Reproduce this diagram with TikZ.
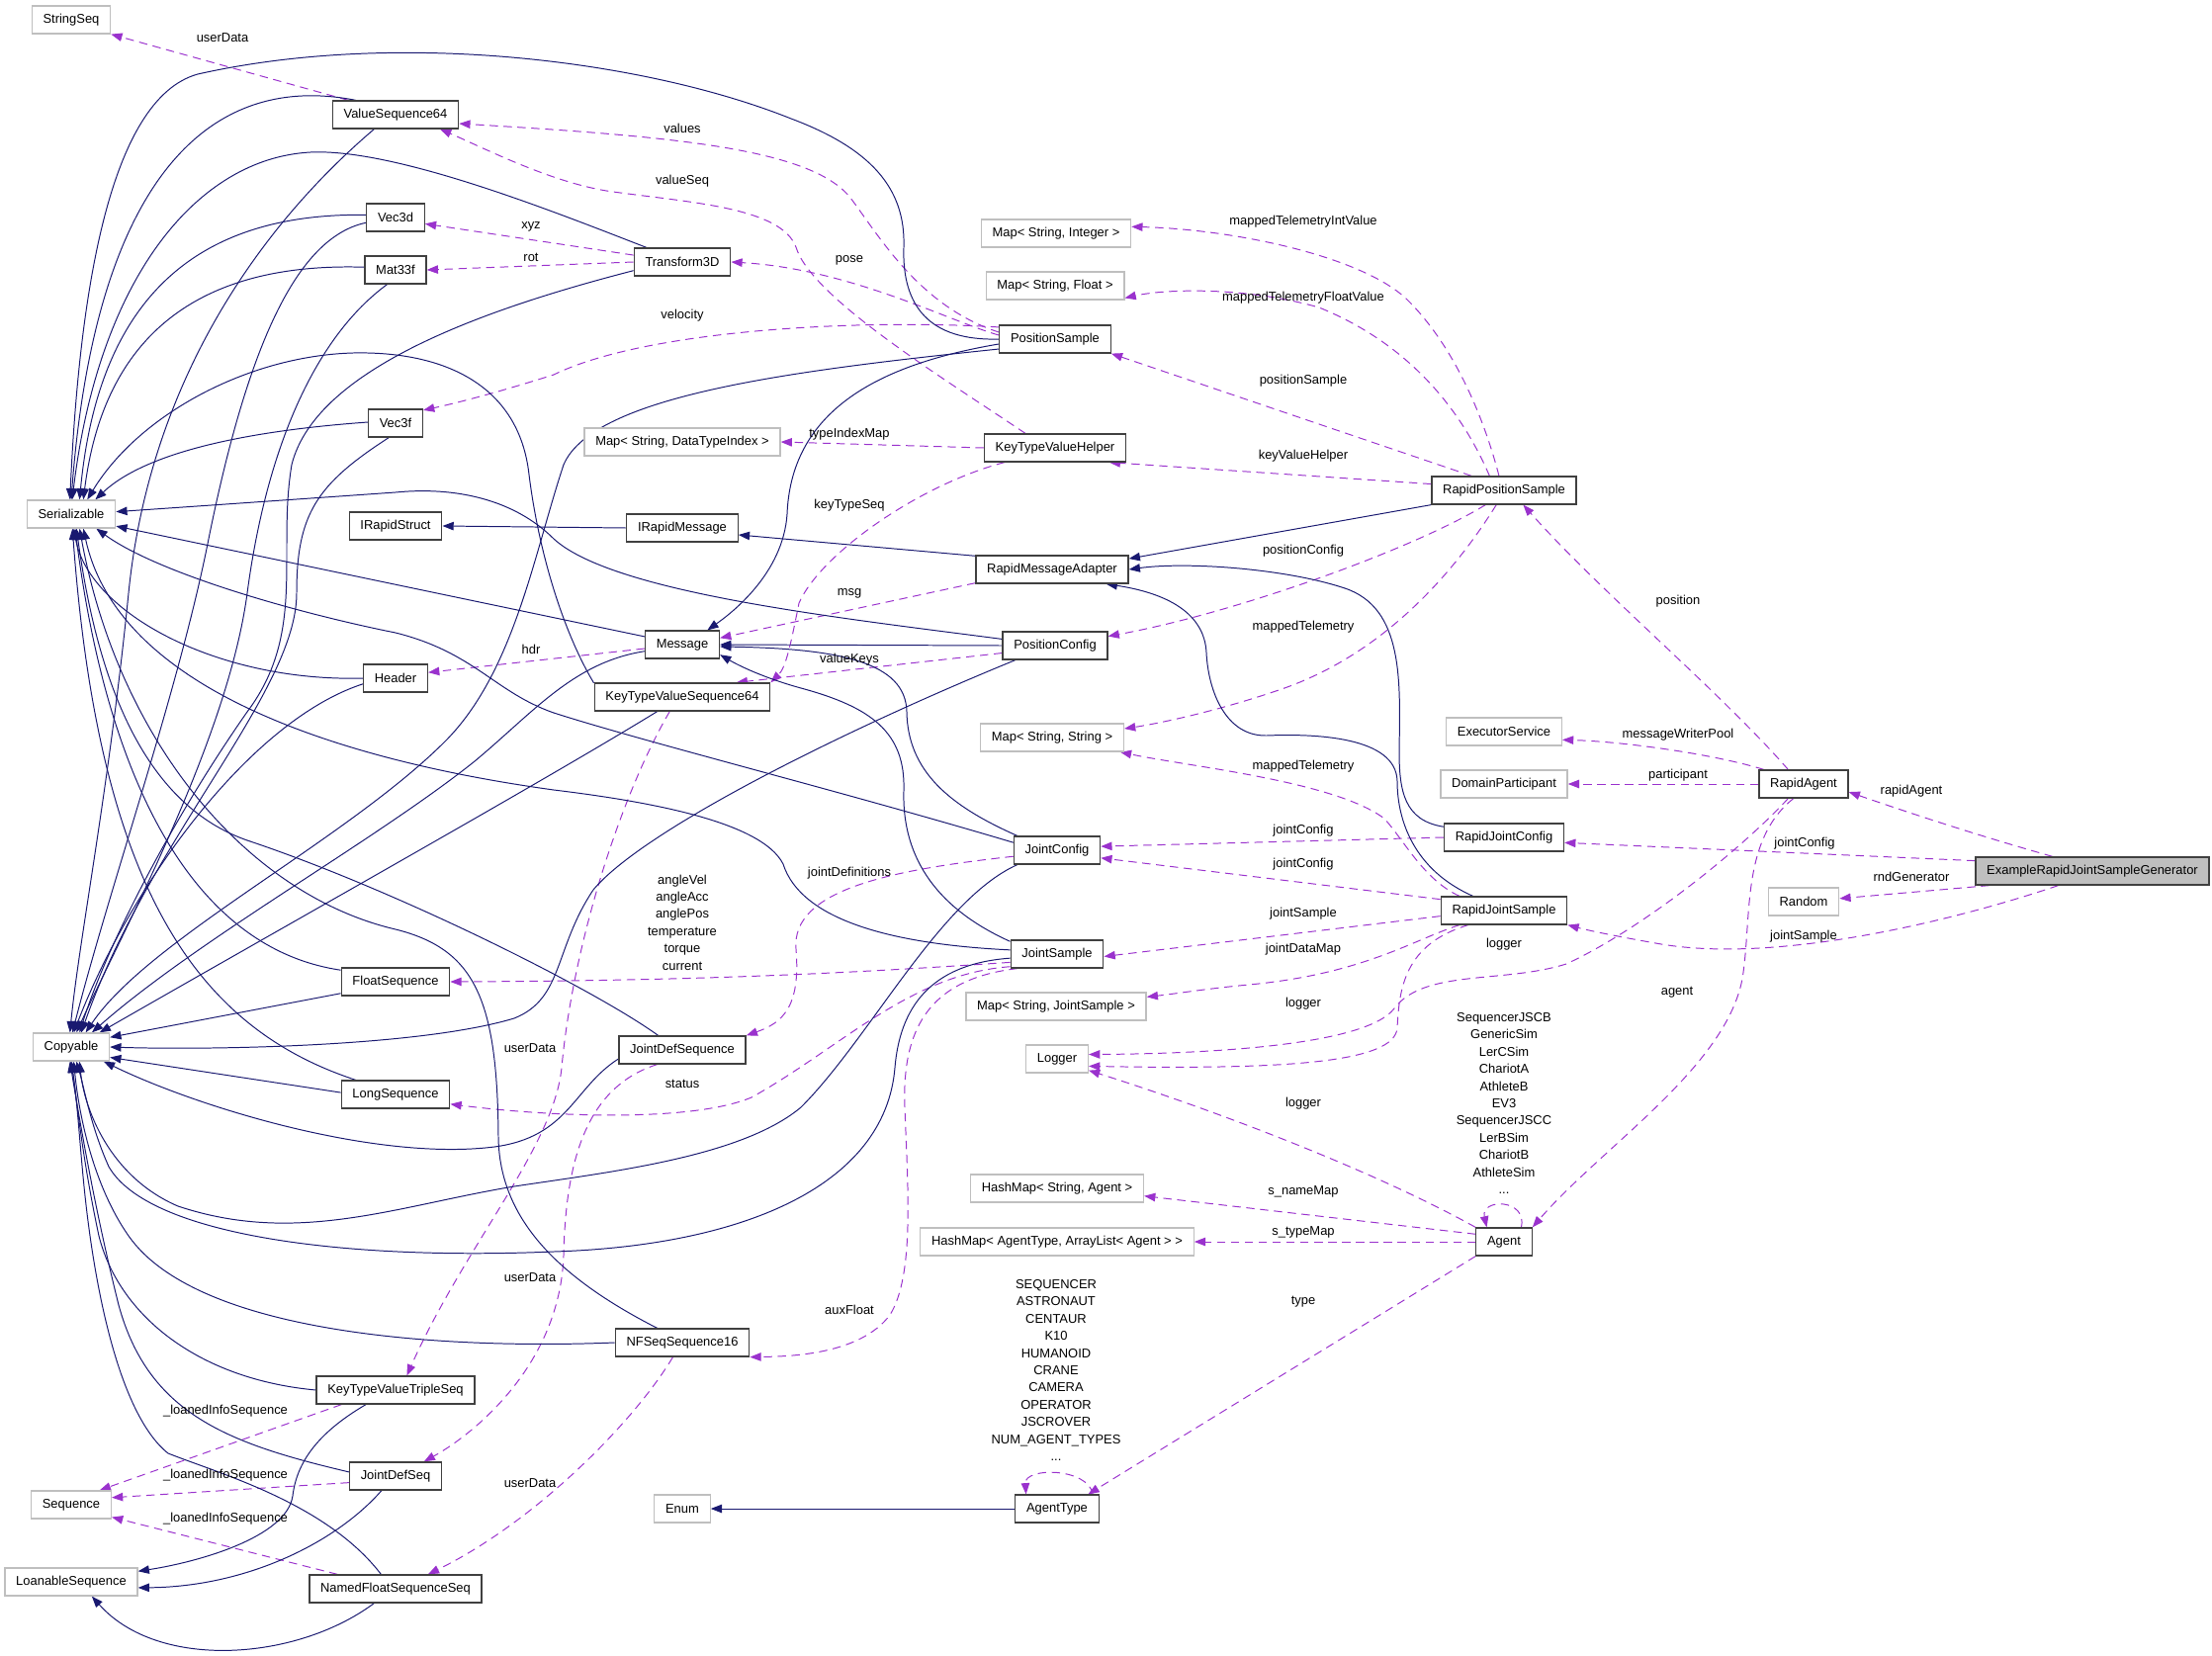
\documentclass[tikz,border=0pt]{standalone}
\usepackage{fontspec}
\setmainfont{Liberation Sans}
\usetikzlibrary{arrows.meta, backgrounds}
\definecolor{inhblue}{HTML}{191970}
\definecolor{usepurple}{HTML}{9A32CD}
\definecolor{boxdark}{HTML}{404040}
\definecolor{boxgray}{HTML}{BFBFBF}
\definecolor{genfill}{HTML}{BFBFBF}

\begin{document}
\begin{tikzpicture}[x=0.025cm, y=-0.025cm, font=\fontsize{9.2}{12.4}\selectfont,
    cls/.style={draw=boxdark, fill=white, line width=0.9pt, minimum height=0.7cm, inner xsep=8pt, inner ysep=0pt},
    ext/.style={cls, draw=boxgray},
    inh/.style={inhblue, line width=0.7pt, -{Triangle[length=8pt,width=6pt]}},
    member/.style={usepurple, line width=0.7pt, dash pattern=on 6pt off 4pt, -{Triangle[length=8pt,width=6pt]}},
    lbl/.style={inner sep=0pt, align=center}]
\useasboundingbox (0,0) rectangle (2237,1675);

\node[ext] (strseq) at (72,20) {StringSeq};
\node[cls] (vseq64) at (400,116) {ValueSequence64};
\node[cls] (vec3d) at (400,220) {Vec3d};
\node[cls] (mat33f) at (400,273) {Mat33f};
\node[cls] (vec3f) at (400,428) {Vec3f};
\node[ext] (ser) at (72,520) {Serializable};
\node[cls] (irstruct) at (400,532) {IRapidStruct};
\node[cls] (header) at (400,686) {Header};
\node[cls] (floatseq) at (400,993) {FloatSequence};
\node[ext] (cop) at (72,1059) {Copyable};
\node[cls] (longseq) at (400,1107) {LongSequence};
\node[cls] (ktvtriple) at (400,1406) {KeyTypeValueTripleSeq};
\node[cls] (jdseq) at (400,1493) {JointDefSeq};
\node[ext] (sequence) at (72,1522) {Sequence};
\node[ext] (loanseq) at (72,1600) {LoanableSequence};
\node[cls] (nfss) at (400,1607) {NamedFloatSequenceSeq};
\node[cls] (xform) at (690,265) {Transform3D};
\node[ext] (mapdti) at (690,447) {Map< String, DataTypeIndex >};
\node[cls] (irmsg) at (690,534) {IRapidMessage};
\node[cls] (msg) at (690,652) {Message};
\node[cls] (ktvseq64) at (690,705) {KeyTypeValueSequence64};
\node[cls] (jdefseq) at (690,1062) {JointDefSequence};
\node[cls] (nfseq16) at (690,1358) {NFSeqSequence16};
\node[ext] (enum) at (690,1526) {Enum};
\node[ext] (mapint) at (1068,236) {Map< String, Integer >};
\node[ext] (mapfloat) at (1067,289) {Map< String, Float >};
\node[cls] (possample) at (1067,343) {PositionSample};
\node[cls] (ktvhelper) at (1067,453) {KeyTypeValueHelper};
\node[cls] (rma) at (1064,576) {RapidMessageAdapter};
\node[cls] (poscfg) at (1067,653) {PositionConfig};
\node[ext] (mapstr) at (1064,746) {Map< String, String >};
\node[cls] (jcfg) at (1069,860) {JointConfig};
\node[cls] (jsample) at (1069,965) {JointSample};
\node[ext] (mapjs) at (1068,1018) {Map< String, JointSample >};
\node[ext] (logger) at (1069,1071) {Logger};
\node[ext] (hmname) at (1069,1202) {HashMap< String, Agent >};
\node[ext] (hmtype) at (1069,1256) {HashMap< AgentType, ArrayList< Agent > >};
\node[cls] (agenttype) at (1069,1526) {AgentType};
\node[cls] (rps) at (1521,496) {RapidPositionSample};
\node[ext] (execsvc) at (1521,740) {ExecutorService};
\node[ext] (domainp) at (1521,793) {DomainParticipant};
\node[cls] (rjcfg) at (1521,847) {RapidJointConfig};
\node[cls] (rjsample) at (1521,921) {RapidJointSample};
\node[cls] (agent) at (1521,1256) {Agent};
\node[cls] (ragent) at (1824,793) {RapidAgent};
\node[ext] (random) at (1824,912) {Random};
\node[cls, fill=genfill] (gen) at (2116,881) {ExampleRapidJointSampleGenerator};

\node[lbl] (l-userdata1) at (225,38) {userData};
\node[lbl] (l-values) at (690,130) {values};
\node[lbl] (l-valueseq) at (690,183) {valueSeq};
\node[lbl] (l-xyz) at (537,229) {xyz};
\node[lbl] (l-rot) at (537,260) {rot};
\node[lbl] (l-pose) at (859,263) {pose};
\node[lbl] (l-velocity) at (690,319) {velocity};
\node[lbl] (l-typeindex) at (859,439) {typeIndexMap};
\node[lbl] (l-keytypeseq) at (859,511) {keyTypeSeq};
\node[lbl] (l-intvalue) at (1318,224) {mappedTelemetryIntValue};
\node[lbl] (l-floatvalue) at (1318,301) {mappedTelemetryFloatValue};
\node[lbl] (l-possample) at (1318,385) {positionSample};
\node[lbl] (l-kvhelper) at (1318,461) {keyValueHelper};
\node[lbl] (l-poscfg) at (1318,557) {positionConfig};
\node[lbl] (l-msg) at (859,600) {msg};
\node[lbl] (l-valuekeys) at (859,667) {valueKeys};
\node[lbl] (l-hdr) at (537,657) {hdr};
\node[lbl] (l-maptel1) at (1318,634) {mappedTelemetry};
\node[lbl] (l-maptel2) at (1318,775) {mappedTelemetry};
\node[lbl] (l-jcfg1) at (1318,840) {jointConfig};
\node[lbl] (l-jcfg2) at (1318,874) {jointConfig};
\node[lbl] (l-jsample1) at (1318,924) {jointSample};
\node[lbl] (l-jdatamap) at (1318,960) {jointDataMap};
\node[lbl] (l-logger2) at (1318,1015) {logger};
\node[lbl] (l-logger3) at (1318,1116) {logger};
\node[lbl] (l-logger1) at (1521,955) {logger};
\node[lbl] (l-jointdefs) at (859,883) {jointDefinitions};
\node[lbl] (l-jsfloat) at (690,933) {angleVel\\angleAcc\\anglePos\\temperature\\torque\\current};
\node[lbl] (l-status) at (690,1096) {status};
\node[lbl] (l-userdata2) at (536,1060) {userData};
\node[lbl] (l-userdata3) at (536,1292) {userData};
\node[lbl] (l-userdata4) at (536,1500) {userData};
\node[lbl] (l-auxfloat) at (859,1325) {auxFloat};
\node[lbl] (l-loaned1) at (228,1427) {\_loanedInfoSequence};
\node[lbl] (l-loaned2) at (228,1492) {\_loanedInfoSequence};
\node[lbl] (l-loaned3) at (228,1536) {\_loanedInfoSequence};
\node[lbl] (l-position) at (1697,608) {position};
\node[lbl] (l-mwpool) at (1697,743) {messageWriterPool};
\node[lbl] (l-participant) at (1697,784) {participant};
\node[lbl] (l-agent) at (1696,1004) {agent};
\node[lbl] (l-rapidagent) at (1933,800) {rapidAgent};
\node[lbl] (l-jcfg3) at (1825,853) {jointConfig};
\node[lbl] (l-rnd) at (1933,887) {rndGenerator};
\node[lbl] (l-jsample2) at (1824,947) {jointSample};
\node[lbl] (l-namemap) at (1318,1205) {s\_nameMap};
\node[lbl] (l-typemap) at (1318,1246) {s\_typeMap};
\node[lbl] (l-type) at (1318,1317) {type};
\node[lbl] (l-agentlist) at (1521,1116) {SequencerJSCB\\GenericSim\\LerCSim\\ChariotA\\AthleteB\\EV3\\SequencerJSCC\\LerBSim\\ChariotB\\AthleteSim\\...};
\node[lbl] (l-typelist) at (1068,1386) {SEQUENCER\\ASTRONAUT\\CENTAUR\\K10\\HUMANOID\\CRANE\\CAMERA\\OPERATOR\\JSCROVER\\NUM\_AGENT\_TYPES\\...};

\begin{scope}[on background layer]
\draw[member] (vseq64.163) -- (strseq.south east);
\draw[member] (possample.173) .. controls (930,310) and (890,240) .. (860,200) .. controls (820,150) and (680,138) .. (vseq64.-8);
\draw[member] (ktvhelper.154) .. controls (950,380) and (820,300) .. (805,250) .. controls (790,210) and (700,205) .. (620,194) .. controls (560,186) and (490,150) .. (vseq64.-18);
\draw[member] (xform.172) -- (vec3d.-12);
\draw[member] (xform.west) -- (mat33f.east);
\draw[member] (possample.176) .. controls (960,325) and (860,272) .. (xform.east);
\draw[member] (possample.168) .. controls (860,322) and (650,335) .. (560,379) .. controls (500,398) and (460,408) .. (vec3f.25);
\draw[member] (ktvhelper.west) -- (mapdti.east);
\draw[member] (ktvhelper.196) .. controls (930,490) and (830,560) .. (808,610) .. controls (800,650) and (795,675) .. (ktvseq64.north east);
\draw[member] (rps.156) -- (possample.south east);
\draw[member] (rps.175) -- (ktvhelper.-15);
\draw[member] (rps.135) .. controls (1480,420) and (1430,350) .. (1334,311) .. controls (1260,290) and (1180,292) .. (mapfloat.-10);
\draw[member] (rps.109) .. controls (1500,420) and (1470,350) .. (1424,304) .. controls (1380,260) and (1250,232) .. (mapint.5);
\draw[member] (rps.-142) .. controls (1430,555) and (1250,620) .. (poscfg.10);
\draw[member] (rps.-118) .. controls (1470,580) and (1400,660) .. (1299,696) .. controls (1230,720) and (1170,732) .. (mapstr.7);
\draw[member] (rjsample.162) .. controls (1440,890) and (1420,850) .. (1400,828) .. controls (1350,790) and (1200,775) .. (mapstr.-12);
\draw[member] (rma.-170) -- (msg.10);
\draw[member] (poscfg.-172) -- (ktvseq64.15);
\draw[member] (msg.-174) -- (header.10);
\draw[member] (ragent.137) .. controls (1740,700) and (1620,600) .. (rps.-37);
\draw[member] (ragent.160) .. controls (1730,762) and (1640,750) .. (execsvc.-8);
\draw[member] (ragent.west) -- (domainp.east);
\draw[member] (ragent.-137) .. controls (1760,860) and (1660,940) .. (1584,975) .. controls (1520,995) and (1440,980) .. (1410,1020) .. controls (1380,1060) and (1200,1066) .. (logger.8);
\draw[member] (ragent.-125) .. controls (1760,850) and (1772,930) .. (1762,990) .. controls (1745,1080) and (1620,1160) .. (agent.north east);
\draw[member] (gen.160) .. controls (2000,845) and (1930,822) .. (ragent.-10);
\draw[member] (gen.175) -- (rjcfg.-5);
\draw[member] (gen.-172) -- (random.5);
\draw[member] (gen.-157) .. controls (1980,930) and (1800,975) .. (1680,955) .. controls (1640,948) and (1610,942) .. (rjsample.south east);
\draw[member] (rjcfg.west) -- (jcfg.5);
\draw[member] (rjsample.170) -- (jcfg.-10);
\draw[member] (rjsample.-175) -- (jsample.-3);
\draw[member] (rjsample.-162) .. controls (1430,950) and (1380,985) .. (1263,996) .. controls (1220,1000) and (1190,1005) .. (mapjs.6);
\draw[member] (rjsample.-158) .. controls (1420,955) and (1415,1000) .. (1413,1040) .. controls (1410,1075) and (1300,1082) .. (logger.-13);
\draw[member] (agent.north west) .. controls (1400,1190) and (1250,1130) .. (logger.-20);
\draw[member] (agent.165) -- (hmname.-5);
\draw[member] (agent.west) -- (hmtype.east);
\draw[member] (agent.south west) -- (agenttype.25);
\draw[member] (agent.40) .. controls (1545,1212) and (1497,1212) .. (agent.140);
\draw[member] (agenttype.22) .. controls (1100,1484) and (1036,1484) .. (agenttype.155);
\draw[member] (jcfg.-172) .. controls (900,880) and (800,900) .. (805,960) .. controls (810,1020) and (790,1035) .. (jdefseq.north east);
\draw[member] (jsample.-170) .. controls (850,985) and (700,992) .. (floatseq.east);
\draw[member] (jsample.-165) .. controls (920,985) and (850,1060) .. (760,1110) .. controls (700,1135) and (560,1130) .. (longseq.-10);
\draw[member] (jsample.-160) .. controls (940,990) and (912,1040) .. (915,1120) .. controls (918,1200) and (925,1290) .. (900,1330) .. controls (870,1370) and (800,1372) .. (nfseq16.south east);
\draw[member] (ktvseq64.-131) .. controls (630,800) and (580,950) .. (568,1080) .. controls (560,1160) and (470,1260) .. (ktvtriple.52);
\draw[member] (jdefseq.-150) .. controls (590,1100) and (572,1180) .. (570,1270) .. controls (566,1380) and (480,1450) .. (jdseq.27);
\draw[member] (nfseq16.-123) .. controls (640,1440) and (540,1540) .. (nfss.24);
\draw[member] (ktvtriple.-165) -- (sequence.27);
\draw[member] (jdseq.-172) -- (sequence.10);
\draw[member] (nfss.166) -- (sequence.-17);

\draw[inh] (irmsg.west) -- (irstruct.east);
\draw[inh] (rma.170) -- (irmsg.-7);
\draw[inh] (rps.south west) -- (rma.8);
\draw[inh] (rjcfg.170) .. controls (1420,830) and (1415,800) .. (1415,760) .. controls (1416,690) and (1420,615) .. (1360,595) .. controls (1300,575) and (1200,568) .. (rma.east);
\draw[inh] (rjsample.155) .. controls (1430,880) and (1413,830) .. (1413,790) .. controls (1412,745) and (1330,742) .. (1281,744) .. controls (1240,745) and (1222,700) .. (1220,660) .. controls (1218,620) and (1180,600) .. (rma.-15);
\draw[inh] (possample.-175) .. controls (880,370) and (800,420) .. (796,520) .. controls (792,580) and (740,620) .. (msg.30);
\draw[inh] (poscfg.west) -- (msg.east);
\draw[inh] (jcfg.160) .. controls (960,815) and (918,780) .. (917,720) .. controls (916,670) and (850,656) .. (msg.-3);
\draw[inh] (jsample.165) .. controls (950,920) and (912,870) .. (914,800) .. controls (916,740) and (880,715) .. (810,696) .. controls (770,685) and (745,672) .. (msg.-15);
\draw[inh] (agenttype.west) -- (enum.east);
\draw[inh] (ktvtriple.-154) .. controls (320,1450) and (300,1480) .. (296,1513) .. controls (290,1555) and (200,1580) .. (loanseq.9);
\draw[inh] (jdseq.-134) .. controls (340,1560) and (250,1605) .. (loanseq.-5);
\draw[inh] (nfss.-146) .. controls (300,1680) and (160,1690) .. (loanseq.-35);

\draw[inh] (possample.west) .. controls (940,345) and (912,310) .. (914,250) .. controls (916,190) and (880,150) .. (800,120) .. controls (650,60) and (400,30) .. (200,75) .. controls (110,100) and (80,300) .. (ser.95);
\draw[inh] (vseq64.160) .. controls (200,70) and (95,200) .. (ser.90);
\draw[inh] (xform.158) .. controls (560,214) and (400,150) .. (314,154) .. controls (200,160) and (100,280) .. (ser.86);
\draw[inh] (vec3d.175) .. controls (200,215) and (100,300) .. (ser.60);
\draw[inh] (mat33f.175) .. controls (200,265) and (105,340) .. (ser.50);
\draw[inh] (vec3f.178) .. controls (260,435) and (150,455) .. (ser.31);
\draw[inh] (ktvseq64.171) .. controls (570,640) and (545,560) .. (535,480) .. controls (525,390) and (450,355) .. (357,357) .. controls (250,360) and (140,420) .. (ser.42);
\draw[inh] (poscfg.173) .. controls (850,625) and (620,600) .. (560,545) .. controls (520,505) and (460,492) .. (400,498) .. controls (300,505) and (200,512) .. (ser.3);
\draw[inh] (msg.168) -- (ser.-15);
\draw[inh] (header.west) .. controls (220,690) and (90,620) .. (ser.-80);
\draw[inh] (jcfg.170) .. controls (850,800) and (650,750) .. (560,721) .. controls (500,700) and (480,660) .. (400,640) .. controls (300,620) and (160,580) .. (ser.-30);
\draw[inh] (jsample.175) .. controls (900,955) and (810,930) .. (792,874) .. controls (770,830) and (650,810) .. (560,799) .. controls (350,770) and (120,700) .. (ser.-50);
\draw[inh] (floatseq.168) .. controls (200,960) and (110,800) .. (ser.-75);
\draw[inh] (longseq.160) .. controls (200,1040) and (100,900) .. (ser.-85);
\draw[inh] (jdefseq.149) .. controls (600,1000) and (400,900) .. (250,850) .. controls (150,815) and (100,700) .. (ser.-70);
\draw[inh] (nfseq16.150) .. controls (560,1290) and (505,1230) .. (504,1150) .. controls (503,1010) and (480,960) .. (400,940) .. controls (250,905) and (120,750) .. (ser.-60);

\draw[inh] (vseq64.-146) .. controls (250,240) and (150,400) .. (130,600) .. controls (110,800) and (80,950) .. (cop.95);
\draw[inh] (vec3d.-170) .. controls (300,240) and (250,350) .. (210,550) .. controls (180,700) and (110,900) .. (cop.85);
\draw[inh] (mat33f.-120) .. controls (320,340) and (270,450) .. (250,600) .. controls (230,750) and (120,950) .. (cop.70);
\draw[inh] (xform.-170) .. controls (500,310) and (320,370) .. (295,470) .. controls (280,560) and (310,640) .. (250,720) .. controls (180,820) and (110,950) .. (cop.60);
\draw[inh] (vec3f.-115) .. controls (320,490) and (300,520) .. (300,600) .. controls (300,700) and (150,850) .. (cop.55);
\draw[inh] (possample.-170) .. controls (800,375) and (600,400) .. (570,470) .. controls (540,560) and (520,680) .. (450,750) .. controls (350,850) and (150,950) .. (cop.45);
\draw[inh] (header.-170) .. controls (250,730) and (130,900) .. (cop.80);
\draw[inh] (msg.-170) .. controls (580,670) and (540,720) .. (480,770) .. controls (380,850) and (200,950) .. (cop.35);
\draw[inh] (ktvseq64.-150) .. controls (550,790) and (300,930) .. (cop.27);
\draw[inh] (poscfg.-160) .. controls (850,740) and (650,840) .. (600,900) .. controls (560,960) and (570,1010) .. (520,1030) .. controls (420,1060) and (200,1062) .. (cop.east);
\draw[inh] (floatseq.-168) -- (cop.14);
\draw[inh] (longseq.178) -- (cop.-15);
\draw[inh] (jdefseq.-172) .. controls (580,1100) and (575,1150) .. (500,1160) .. controls (380,1175) and (200,1120) .. (cop.-24);
\draw[inh] (jcfg.-160) .. controls (950,910) and (880,1050) .. (810,1120) .. controls (750,1170) and (620,1185) .. (520,1200) .. controls (400,1220) and (300,1260) .. (180,1220) .. controls (110,1190) and (85,1120) .. (cop.-60);
\draw[inh] (jsample.-175) .. controls (940,975) and (910,1020) .. (905,1080) .. controls (895,1200) and (750,1260) .. (560,1266) .. controls (350,1275) and (150,1250) .. (110,1180) .. controls (92,1140) and (85,1100) .. (cop.-70);
\draw[inh] (nfseq16.west) .. controls (450,1365) and (200,1350) .. (130,1250) .. controls (95,1200) and (80,1130) .. (cop.-80);
\draw[inh] (ktvtriple.west) .. controls (200,1395) and (120,1330) .. (100,1250) .. controls (85,1180) and (78,1120) .. (cop.-88);
\draw[inh] (jdseq.175) .. controls (230,1460) and (150,1430) .. (120,1320) .. controls (95,1220) and (80,1130) .. (cop.-95);
\draw[inh] (nfss.135) .. controls (330,1520) and (220,1490) .. (170,1470) .. controls (120,1430) and (95,1300) .. (85,1200) .. controls (80,1150) and (78,1110) .. (cop.-92);
\end{scope}
\end{tikzpicture}
\end{document}
